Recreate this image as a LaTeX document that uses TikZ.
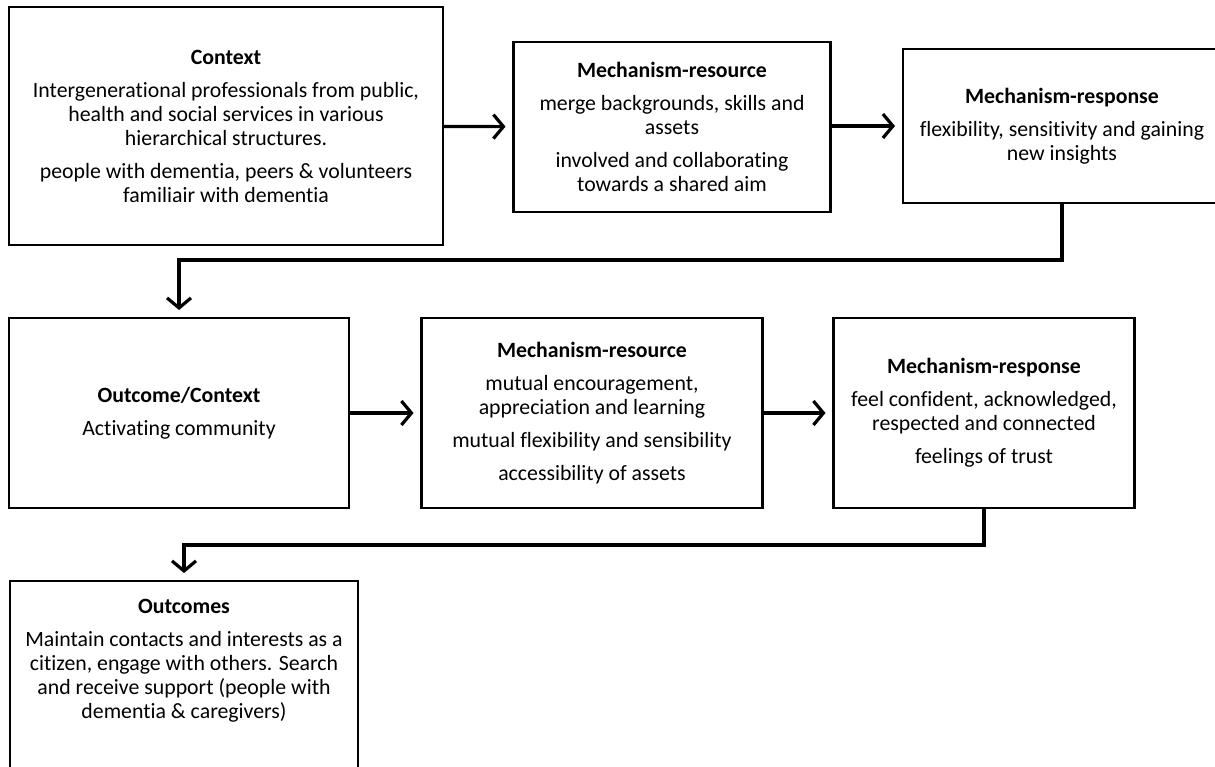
\documentclass[tikz,border=0pt]{standalone}
\usepackage{fontspec}
\setmainfont{Carlito}[Ligatures=NoCommon]
\usetikzlibrary{arrows.meta}
\newcommand{\paragap}{9pt}
\tikzstyle{box}=[draw, line width=2.5pt, inner sep=0, outer sep=0, align=center,
                 font=\fontsize{21.8}{24}\selectfont]
\tikzstyle{boxtext}=[inner sep=0, align=center, font=\fontsize{21.8}{24}\selectfont]
\tikzstyle{flow}=[line width=3.2pt, -{Straight Barb[length=10pt, width=24pt]}, shorten >=8pt]

\begin{document}
\begin{tikzpicture}[x=1pt, y=-1pt]
        \useasboundingbox (0,0) rectangle (1215,767);
        % first row
        \node[box, minimum width=434, minimum height=238] (ctx) at (226,126)
            {\textbf{Context}\\[\paragap]
             Intergenerational professionals from public,\\
             health and social services in various\\
             hierarchical structures.\\[\paragap]
             people with dementia, peers \& volunteers\\
             familiair with dementia};
        \node[box, minimum width=317, minimum height=170] (res1) at (672,127)
            {\textbf{Mechanism-resource}\\[\paragap]
             merge backgrounds, skills and\\
             assets\\[\paragap]
             involved and collaborating\\
             towards a shared aim};
        \node[box, minimum width=318, minimum height=154] (resp1) at (1062,126)
            {\textbf{Mechanism-response}\\[\paragap]
             flexibility, sensitivity and gaining\\
             new insights};
        % second row
        \node[box, minimum width=340, minimum height=190] (oc1) at (179,413)
            {\textbf{Outcome/Context}\\[\paragap]
             Activating community};
        \node[box, minimum width=341, minimum height=190] (res2) at (592,413)
            {\textbf{Mechanism-resource}\\[\paragap]
             mutual encouragement,\\
             appreciation and learning\\[\paragap]
             mutual flexibility and sensibility\\[\paragap]
             accessibility of assets};
        \node[box, minimum width=301, minimum height=190] (resp2) at (984,413)
            {\textbf{Mechanism-response}\\[\paragap]
             feel confident, acknowledged,\\
             respected and connected\\[\paragap]
             feelings of trust};
        % outcomes, running off the bottom edge
        \node[box, anchor=north, minimum width=348, minimum height=230] (out) at (184,581) {};
        \node[boxtext] (outtext) at ([yshift=-80]out.north)
            {\textbf{Outcomes}\\[\paragap]
             Maintain contacts and interests as a\\
             citizen, engage with others. Search\\
             and receive support (people with\\
             dementia \& caregivers)};
        \draw[flow] (ctx) -- (res1);
        \draw[flow] (res1.east |- resp1.west) -- (resp1);
        \draw[flow] (resp1.south) -- ++(0,57) -| (oc1.north);
        \draw[flow] (oc1) -- (res2);
        \draw[flow] (res2) -- (resp2);
        \draw[flow] (resp2.south) -- ++(0,37) -| (out.north);
    \end{tikzpicture}
\end{document}
